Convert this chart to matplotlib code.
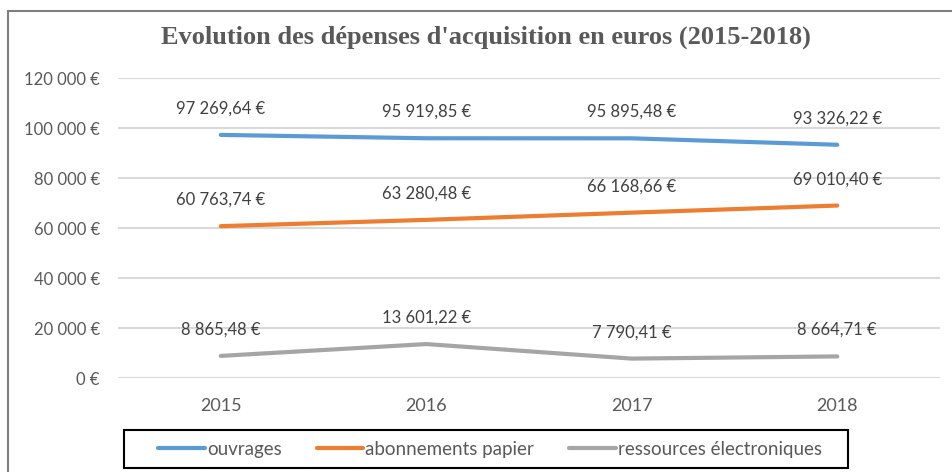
import matplotlib.pyplot as plt
from matplotlib.patches import Rectangle

years = ['2015', '2016', '2017', '2018']
ouvrages = [97269.64, 95919.85, 95895.48, 93326.22]
abonnements = [60763.74, 63280.48, 66168.66, 69010.40]
ressources = [8865.48, 13601.22, 7790.41, 8664.71]
yticks = [0, 20000, 40000, 60000, 80000, 100000, 120000]

series = [
    ('ouvrages', ouvrages, '#5b9bd5'),
    ('abonnements papier', abonnements, '#ed7d31'),
    ('ressources électroniques', ressources, '#a5a5a5'),
]

plt.rcParams['font.family'] = ['Lato', 'DejaVu Sans']


def euro(v, dec=True):
    if dec:
        s = f'{v:,.2f}'.replace(',', ' ').replace('.', ',')
    else:
        s = f'{v:,.0f}'.replace(',', ' ')
    return s + ' €'


fig = plt.figure(figsize=(9.52, 4.72), dpi=100)
ax = fig.add_axes([0.124, 0.199, 0.8634, 0.6356])

x = range(len(years))
for name, vals, col in series:
    ax.plot(x, vals, color=col, lw=3, label=name, solid_capstyle='round')
    for xi, v in zip(x, vals):
        ax.annotate(euro(v), (xi, v), xytext=(0, 19), textcoords='offset points',
                    ha='center', va='center', fontsize=12, color='#404040')

ax.set_xlim(-0.5, 3.5)
ax.set_ylim(0, 120000)
ax.set_yticks(yticks)
ax.set_yticklabels([euro(v, False) for v in yticks])
ax.set_xticks(list(x))
ax.set_xticklabels(years)
ax.tick_params(length=0, labelsize=12, labelcolor='#595959', pad=14)
ax.tick_params(axis='x', labelsize=13)
ax.tick_params(axis='y', pad=13)
ax.grid(axis='y', color='#d9d9d9', lw=1.5)
ax.set_axisbelow(True)
for s in ax.spines.values():
    s.set_visible(False)

fig.text(0.51, 0.922, "Evolution des dépenses d'acquisition en euros (2015-2018)",
         ha='center', va='center', fontsize=19, fontweight='bold',
         family='Liberation Serif', color='#595959')

leg = fig.legend(loc='center', bbox_to_anchor=(490 / 952, (472 - 449) / 472),
                 ncol=3, fontsize=13.5, frameon=False, handlelength=2.5,
                 handletextpad=0.1, columnspacing=1.85, borderaxespad=0)
for t in leg.get_texts():
    t.set_color('#595959')

# legend box
fig.patches.append(Rectangle((124 / 952, 4 / 472), 724 / 952, 38 / 472,
                             transform=fig.transFigure, fill=False,
                             edgecolor='black', lw=1.5))
# chart border
fig.patches.append(Rectangle((8 / 952, -0.1), 1.2, (472 - 11) / 472 + 0.1,
                             transform=fig.transFigure, fill=False,
                             edgecolor='#7f7f7f', lw=1.5))

fig.savefig('out.png', dpi=100)
